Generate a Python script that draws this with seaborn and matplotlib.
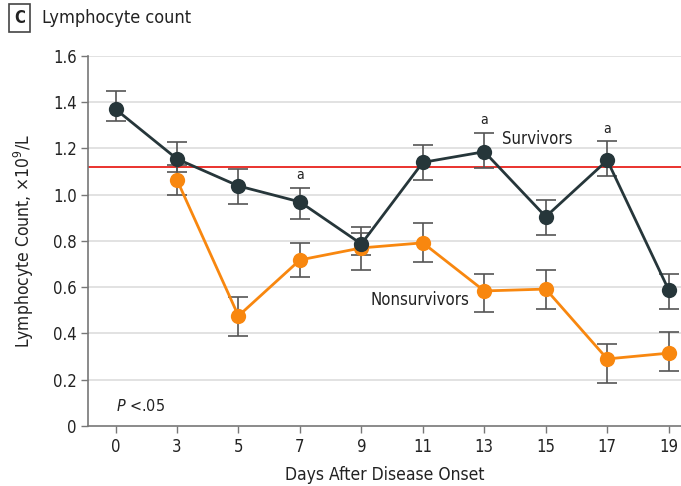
import matplotlib
matplotlib.use("Agg")
import matplotlib.pyplot as plt
import seaborn as sns
import pandas as pd
import numpy as np

days = ["0", "3", "5", "7", "9", "11", "13", "15", "17", "19"]
surv = [1.37, 1.155, 1.038, 0.969, 0.787, 1.14, 1.186, 0.905, 1.149, 0.588]
surv_hi = [1.45, 1.23, 1.11, 1.03, 0.86, 1.216, 1.267, 0.979, 1.231, 0.659]
surv_lo = [1.32, 1.10, 0.96, 0.895, 0.74, 1.064, 1.116, 0.827, 1.081, 0.507]
non_days = ["3", "5", "7", "9", "11", "13", "15", "17", "19"]
non = [1.064, 0.476, 0.718, 0.77, 0.792, 0.584, 0.592, 0.29, 0.315]
non_hi = [1.13, 0.558, 0.79, 0.835, 0.878, 0.657, 0.674, 0.355, 0.406]
non_lo = [1.0, 0.389, 0.644, 0.675, 0.71, 0.493, 0.507, 0.187, 0.239]
ref_line = 1.12
sig_days = ["7", "13", "17"]

sns.set_theme(style="white")
plt.rcParams['font.family'] = ['DejaVu Sans']
plt.rcParams['font.stretch'] = 'condensed'

dark = "#26363a"
orange = "#f8870f"
errc = "#555555"

pos = {d: i for i, d in enumerate(days)}
df_s = pd.DataFrame({"x": [pos[d] for d in days], "y": surv})
df_n = pd.DataFrame({"x": [pos[d] for d in non_days], "y": non})

fig = plt.figure(figsize=(6.81, 4.86), dpi=100)
ax = fig.add_axes([0.129, 0.1235, 0.871, 0.7613])

for v in np.arange(0.2, 1.61, 0.2):
    ax.axhline(v, color="#dddddd", lw=1.2, zorder=0)
ax.axhline(ref_line, color="#e8221c", lw=1.3, zorder=1)

ax.errorbar(df_s["x"], df_s["y"],
            yerr=[np.array(surv) - np.array(surv_lo), np.array(surv_hi) - np.array(surv)],
            fmt="none", ecolor=errc, elinewidth=1.2, capsize=7, capthick=1.2, zorder=2)
ax.errorbar(df_n["x"], df_n["y"],
            yerr=[np.array(non) - np.array(non_lo), np.array(non_hi) - np.array(non)],
            fmt="none", ecolor=errc, elinewidth=1.2, capsize=7, capthick=1.2, zorder=2)

sns.lineplot(data=df_s, x="x", y="y", ax=ax, color=dark, lw=2, marker="o",
             markersize=11, markeredgewidth=0, zorder=4)
sns.lineplot(data=df_n, x="x", y="y", ax=ax, color=orange, lw=2, marker="o",
             markersize=11, markeredgewidth=0, zorder=3)

for d in sig_days:
    i = pos[d]
    ax.text(i, surv_hi[i] + 0.025, "a", ha="center", va="bottom", fontsize=10, color="#222222")

ax.text(6.28, 1.24, "Survivors", fontsize=12, color="#222222", va="center", ha="left")
ax.text(4.15, 0.545, "Nonsurvivors", fontsize=12, color="#222222", va="center", ha="left")
ax.text(0.0, 0.085, "$\\mathit{P}$ <.05", fontsize=11.5, color="#222222", va="center", ha="left")

ax.set_xlim(-0.45, 9.2)
ax.set_ylim(0, 1.6)
ax.set_xticks(range(len(days)))
ax.set_xticklabels(days)
ax.set_yticks(np.arange(0, 1.61, 0.2))
ax.set_yticklabels(["0"] + [f"{v:.1f}" for v in np.arange(0.2, 1.61, 0.2)])
ax.tick_params(axis="both", labelsize=12, colors="#222222", length=5, width=1, color="#777777",
               direction="out", bottom=True, left=True)
ax.tick_params(axis="x", pad=4)
ax.tick_params(axis="y", pad=3)
for s in ["top", "right"]:
    ax.spines[s].set_visible(False)
for s in ["left", "bottom"]:
    ax.spines[s].set_color("#777777")
    ax.spines[s].set_linewidth(1.2)
ax.set_xlabel("Days After Disease Onset", fontsize=12.5, color="#222222", labelpad=7)
ax.set_ylabel("Lymphocyte Count, ×10$^9$/L", fontsize=12.5, color="#222222", labelpad=12)

fig.text(0.029, 0.962, "C", fontsize=12, fontweight="bold", color="#222222", ha="center", va="center",
         bbox=dict(boxstyle="square,pad=0.3", fc="white", ec="#444444", lw=1.2))
fig.text(0.062, 0.962, "Lymphocyte count", fontsize=13, color="#222222", ha="left", va="center")

fig.savefig("out.png", dpi=100)
